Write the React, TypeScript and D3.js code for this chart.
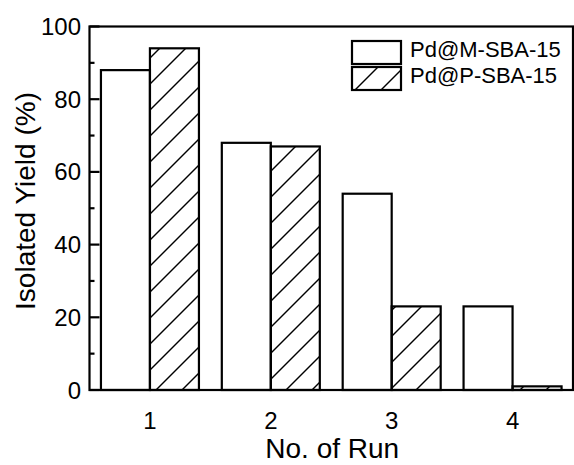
import * as React from "react"
import * as d3 from "d3"

const runs = ["1", "2", "3", "4"]
const seriesNames = ["Pd@M-SBA-15", "Pd@P-SBA-15"]
const mYield = [88, 68, 54, 23]
const pYield = [94, 67, 23, 1]
const majorTicks = [0, 20, 40, 60, 80, 100]
const minorTicks = [10, 30, 50, 70, 90]

export default function App() {
    const width = 574
    const height = 465
    const left = 89.5
    const right = 573
    const top = 26.5
    const bottom = 390

    const x = d3.scaleBand().domain(runs).range([left, right]).padding(0)
    const y = d3.scaleLinear().domain([0, 100]).range([bottom, top])
    const barW = 49
    const font = "'Liberation Sans', Arial, sans-serif"

    const bars = runs.flatMap((r, i) => {
        const cx = (x(r) as number) + x.bandwidth() / 2
        return [
            { x: cx - barW, v: mYield[i], hatch: false },
            { x: cx, v: pYield[i], hatch: true },
        ]
    })

    return (
        <svg width={width} height={height} style={{ position: "absolute", left: 0, top: 0 }}>
            <defs>
                <pattern id="hatch" patternUnits="userSpaceOnUse" width={26} height={26}>
                    <line x1={0} y1={26} x2={26} y2={0} stroke="#000" strokeWidth={1.4} />
                    <line x1={-3} y1={3} x2={3} y2={-3} stroke="#000" strokeWidth={1.4} />
                    <line x1={23} y1={29} x2={29} y2={23} stroke="#000" strokeWidth={1.4} />
                </pattern>
            </defs>
            <rect width={width} height={height} fill="#fff" />

            {bars.map((b, i) => (
                <rect key={i} x={b.x} y={y(b.v)} width={barW} height={bottom - y(b.v)}
                    fill={b.hatch ? "url(#hatch)" : "#fff"} stroke="#000" strokeWidth={2.2} />
            ))}

            {/* frame */}
            <rect x={left} y={top} width={right - left} height={bottom - top}
                fill="none" stroke="#000" strokeWidth={2.2} />

            {majorTicks.map(t => (
                <g key={t}>
                    <line x1={left} x2={left + 10} y1={y(t)} y2={y(t)} stroke="#000" strokeWidth={2.2} />
                    <text x={81} y={y(t) + 8.5} textAnchor="end" fontFamily={font} fontSize={24}>{t}</text>
                </g>
            ))}
            {minorTicks.map(t => (
                <line key={t} x1={left} x2={left + 5} y1={y(t)} y2={y(t)} stroke="#000" strokeWidth={2.2} />
            ))}

            {runs.map(r => (
                <text key={r} x={(x(r) as number) + x.bandwidth() / 2} y={429} textAnchor="middle"
                    fontFamily={font} fontSize={24}>{r}</text>
            ))}

            <text x={(left + right) / 2 + 1} y={458} textAnchor="middle" fontFamily={font} fontSize={28}>No. of Run</text>
            <text transform="translate(35,201) rotate(-90)" textAnchor="middle" fontFamily={font} fontSize={28}>
                Isolated Yield (%)
            </text>

            {/* legend */}
            {seriesNames.map((name, i) => (
                <g key={name} transform={`translate(352,${41 + i * 26})`}>
                    <rect x={0} y={0} width={49} height={23} fill={i ? "url(#hatch)" : "#fff"}
                        stroke="#000" strokeWidth={2.2} />
                    <text x={58} y={16} fontFamily={font} fontSize={22}>{name}</text>
                </g>
            ))}
        </svg>
    )
}
